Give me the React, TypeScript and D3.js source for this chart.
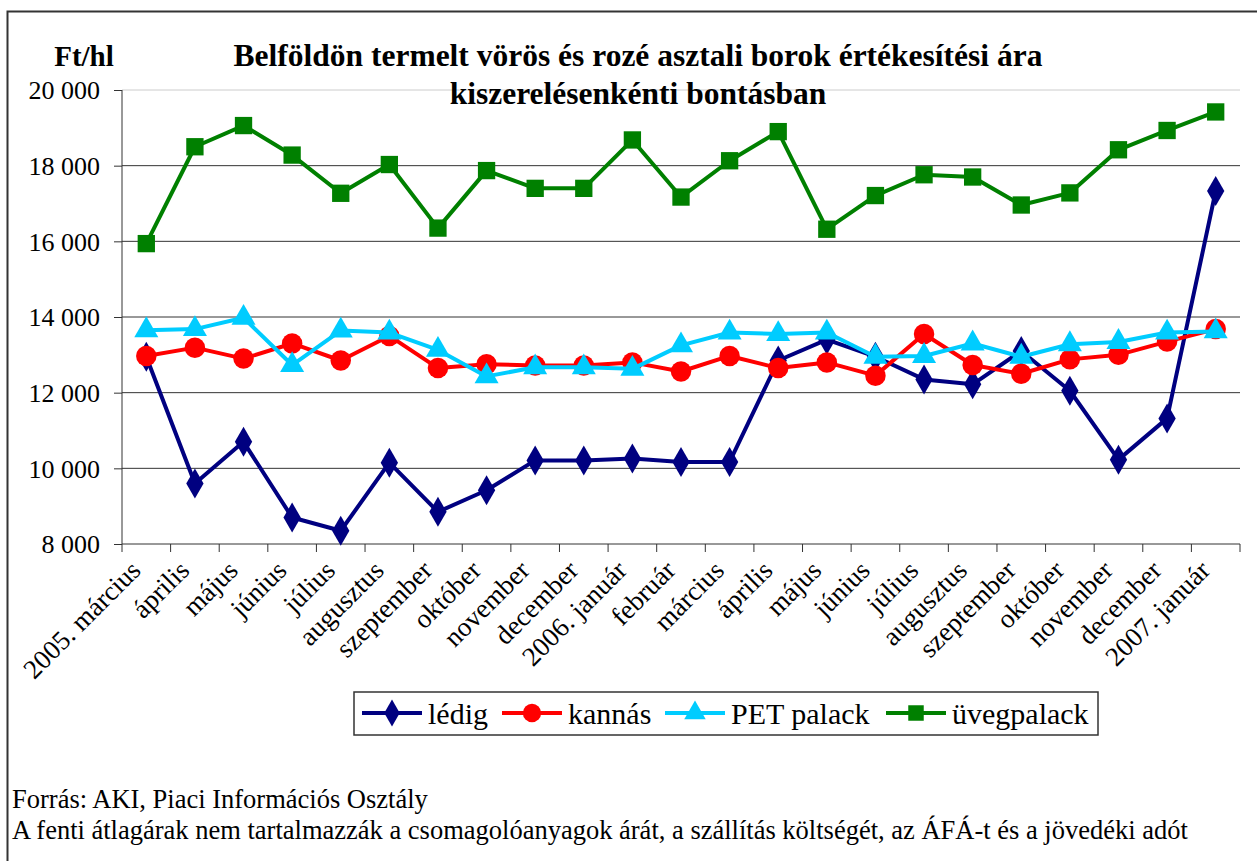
import React, { useEffect, useRef } from "react";
import * as d3 from "d3";

const months = [
  "2005. március", "április", "május", "június", "július", "augusztus",
  "szeptember", "október", "november", "december", "2006. január", "február",
  "március", "április", "május", "június", "július", "augusztus",
  "szeptember", "október", "november", "december", "2007. január",
];

const ledig = [12950, 9600, 10700, 8700, 8350, 10150, 8850, 9420, 10210, 10210, 10260, 10170,
  10170, 12850, 13400, 12950, 12350, 12220, 13100, 12050, 10230, 11320, 17330];
const kannas = [12970, 13190, 12900, 13300, 12850, 13500, 12650, 12750, 12720, 12720, 12800, 12560,
  12970, 12650, 12800, 12450, 13550, 12730, 12500, 12880, 13000, 13350, 13680];
const petPalack = [13650, 13680, 13980, 12730, 13640, 13590, 13130, 12430, 12670, 12670, 12630, 13250,
  13590, 13550, 13590, 12950, 12970, 13300, 12950, 13280, 13340, 13590, 13620];
const uvegpalack = [15940, 18500, 19060, 18280, 17270, 18030, 16350, 17870, 17400, 17400, 18680, 17170,
  18130, 18900, 16320, 17210, 17760, 17700, 16960, 17280, 18420, 18930, 19420];

const yTicks = [8000, 10000, 12000, 14000, 16000, 18000, 20000];

const seriesList = [
  { name: "lédig", values: ledig, color: "#000080", symbol: d3.symbolDiamond, size: 260 },
  { name: "kannás", values: kannas, color: "#ff0000", symbol: d3.symbolCircle, size: 330 },
  { name: "PET palack", values: petPalack, color: "#00ccff", symbol: d3.symbolTriangle, size: 250 },
  { name: "üvegpalack", values: uvegpalack, color: "#008000", symbol: d3.symbolSquare, size: 300 },
];

const font = "Liberation Serif";

export default function App() {
  const ref = useRef<SVGSVGElement>(null);

  useEffect(() => {
    const svg = d3.select(ref.current);
    svg.selectAll("*").remove();

    const left = 122, right = 1240, top = 90, bottom = 544;

    const x = d3.scaleBand().domain(months.map((m, i) => i + "")).range([left, right]);
    const y = d3.scaleLinear().domain([8000, 20000]).range([bottom, top]);
    const cx = (i: number) => x(i + "")! + x.bandwidth() / 2;

    // frame
    svg.append("path")
      .attr("d", "M7.5,861 V11.5 H1257")
      .attr("fill", "none").attr("stroke", "#333").attr("stroke-width", 2);

    // gridlines
    yTicks.forEach(t => {
      if (t === 8000) return;
      svg.append("line")
        .attr("x1", left).attr("x2", right)
        .attr("y1", y(t)).attr("y2", y(t))
        .attr("stroke", t === 20000 ? "#ccc" : "#333").attr("stroke-width", 1);
    });

    // y axis
    const yAxis = svg.append("g").attr("transform", `translate(${left},0)`)
      .call(d3.axisLeft(y).tickValues(yTicks).tickSize(8)
        .tickFormat(d => d3.format(",")(d as number).replace(",", " ")));
    yAxis.select(".domain").attr("stroke", "#333").attr("d", `M0,${top}V${bottom}`);
    yAxis.selectAll(".tick line").attr("stroke", "#333");
    yAxis.selectAll("text").attr("x", -22).attr("dy", "0.34em")
      .attr("font-size", 26).attr("font-family", font).attr("fill", "#000");

    // x axis
    svg.append("line").attr("x1", left).attr("x2", right).attr("y1", bottom).attr("y2", bottom)
      .attr("stroke", "#333");
    d3.range(months.length + 1).forEach(i => {
      const xx = left + i * x.bandwidth();
      svg.append("line").attr("x1", xx).attr("x2", xx).attr("y1", bottom).attr("y2", bottom + 8)
        .attr("stroke", "#333");
    });
    months.forEach((m, i) => {
      svg.append("text")
        .attr("transform", `translate(${cx(i) - 4},${bottom + 28}) rotate(-45)`)
        .attr("text-anchor", "end")
        .attr("font-family", font)
        .attr("font-size", 27)
        .text(m);
    });

    // series
    const line = d3.line<number>().x((d, i) => cx(i)).y(d => y(d));
    seriesList.forEach(s => {
      svg.append("path").datum(s.values).attr("d", line)
        .attr("fill", "none").attr("stroke", s.color).attr("stroke-width", 4)
        .attr("stroke-linejoin", "round");
      svg.selectAll(null).data(s.values).join("path")
        .attr("transform", (d, i) => `translate(${cx(i)},${y(d)})`)
        .attr("d", d3.symbol(s.symbol, s.size)())
        .attr("fill", s.color);
    });

    // titles
    svg.append("text").attr("x", 84).attr("y", 66).attr("text-anchor", "middle")
      .attr("font-family", font)
      .attr("font-size", 29).attr("font-weight", "bold").text("Ft/hl");
    svg.append("text").attr("x", 638).attr("y", 66).attr("text-anchor", "middle")
      .attr("font-family", font)
      .attr("font-size", 31.5).attr("font-weight", "bold")
      .text("Belföldön termelt vörös és rozé asztali borok értékesítési ára");
    svg.append("text").attr("x", 638).attr("y", 104).attr("text-anchor", "middle")
      .attr("font-family", font)
      .attr("font-size", 31.5).attr("font-weight", "bold")
      .text("kiszerelésenkénti bontásban");

    // legend
    svg.append("rect").attr("x", 354).attr("y", 692).attr("width", 744).attr("height", 43)
      .attr("fill", "#fff").attr("stroke", "#333").attr("stroke-width", 1.5);
    const legX = [362, 502, 665, 886];
    seriesList.forEach((s, i) => {
      const lx = legX[i];
      svg.append("line").attr("x1", lx).attr("x2", lx + 60).attr("y1", 713).attr("y2", 713)
        .attr("stroke", s.color).attr("stroke-width", 4);
      svg.append("path").attr("transform", `translate(${lx + 30},713)`)
        .attr("d", d3.symbol(s.symbol, s.size * 0.8)()).attr("fill", s.color);
      svg.append("text").attr("x", lx + 66).attr("y", 724).attr("font-family", font)
        .attr("font-size", 30).text(s.name);
    });

    // footer
    svg.append("text").attr("x", 12).attr("y", 808).attr("font-family", font).attr("font-size", 26.5)
      .text("Forrás: AKI, Piaci Információs Osztály");
    svg.append("text").attr("x", 12).attr("y", 839).attr("font-family", font).attr("font-size", 26.5)
      .text("A fenti átlagárak nem tartalmazzák a csomagolóanyagok árát, a szállítás költségét, az ÁFÁ-t és a jövedéki adót");
  }, []);

  return (
    <svg ref={ref} width={1257} height={861}
      style={{ position: "absolute", left: 0, top: 0, background: "#fff" }} />
  );
}
